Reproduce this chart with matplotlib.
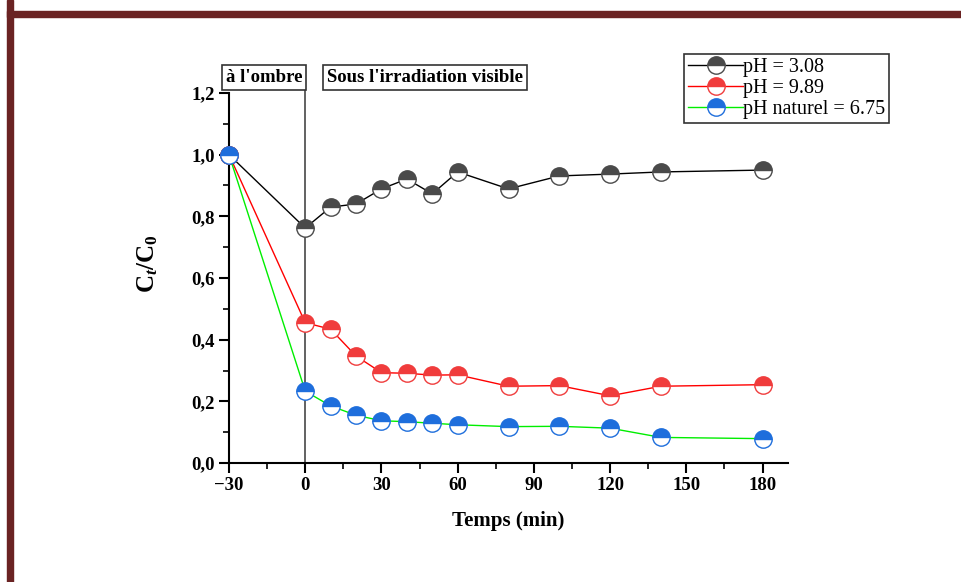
import matplotlib.pyplot as plt
from matplotlib.patches import Rectangle

# data
temps = [-30, 0, 10, 20, 30, 40, 50, 60, 80, 100, 120, 140, 180]
ph_308 = [1.0, 0.762, 0.830, 0.840, 0.889, 0.921, 0.873, 0.944, 0.889, 0.931, 0.937, 0.944, 0.950]
ph_989 = [1.0, 0.455, 0.434, 0.347, 0.293, 0.291, 0.285, 0.286, 0.249, 0.251, 0.218, 0.249, 0.254]
ph_nat = [1.0, 0.233, 0.185, 0.155, 0.137, 0.134, 0.129, 0.124, 0.118, 0.119, 0.113, 0.083, 0.079]

labels = ["pH = 3.08", "pH = 9.89", "pH naturel = 6.75"]
line_colors = ["black", "#ff0000", "#00ee00"]
marker_colors = ["#4a4a4a", "#f03c3c", "#1e6edc"]

xticks = [-30, 0, 30, 60, 90, 120, 150, 180]
yticks = [0.0, 0.2, 0.4, 0.6, 0.8, 1.0, 1.2]

plt.rcParams['font.family'] = ['Liberation Serif', 'DejaVu Serif']
plt.rcParams['mathtext.fontset'] = 'custom'
plt.rcParams['mathtext.rm'] = 'Liberation Serif:bold'
plt.rcParams['mathtext.it'] = 'Liberation Serif:italic:bold'
plt.rcParams['mathtext.bf'] = 'Liberation Serif:bold'

fig = plt.figure(figsize=(9.61, 5.82), dpi=100)
W, H = 961, 582

# dark red frame (left and top)
fig.patches.append(Rectangle((7 / W, 0), 6 / W, 1, transform=fig.transFigure,
                             color="#6a2323", zorder=0))
fig.patches.append(Rectangle((7 / W, 1 - 17 / H), 1, 6 / H, transform=fig.transFigure,
                             color="#6a2323", zorder=0))

ax = fig.add_axes([229 / W, 1 - 463 / H, (788 - 229) / W, (463 - 93) / H])

for ys, lc, mc, lab in zip([ph_308, ph_989, ph_nat], line_colors, marker_colors, labels):
    ax.plot(temps, ys, color=lc, lw=1.0, marker='o', markersize=12.5,
            fillstyle='top', markerfacecolor=mc, markerfacecoloralt='white',
            markeredgecolor=mc, markeredgewidth=1.0, label=lab, clip_on=False, zorder=3)

ax.set_xlim(-30, 190)
ax.set_ylim(0, 1.2)
ax.set_xticks(xticks)
ax.set_xticklabels(["\u221230" if t < 0 else str(t) for t in xticks])
ax.set_yticks(yticks)
ax.set_yticklabels([f"{v:.1f}".replace(".", ",") for v in yticks])
ax.set_xticks([-15, 15, 45, 75, 105, 135, 165], minor=True)
ax.set_yticks([0.1, 0.3, 0.5, 0.7, 0.9, 1.1], minor=True)

for s in ["top", "right"]:
    ax.spines[s].set_visible(False)
for s in ["left", "bottom"]:
    ax.spines[s].set_linewidth(1.5)
ax.tick_params(which='major', direction='out', length=7, width=1.5, labelsize=13.5, pad=3)
ax.tick_params(which='minor', direction='out', length=4, width=1.2)
for lab in ax.get_xticklabels() + ax.get_yticklabels():
    lab.set_fontweight('bold')

ax.set_xlabel("Temps (min)", fontsize=15, fontweight='bold', labelpad=12)
ax.set_ylabel(r"$\mathrm{C}_{t}\mathrm{/C}_{0}$", fontsize=18)
ax.yaxis.set_label_coords(-0.123, 0.54)

# separator between dark and irradiation phases
ax.plot([0, 0], [0, 1.213], color="#555555", lw=1.3, clip_on=False, zorder=2)

box = dict(boxstyle="square,pad=0.2", fc="white", ec="#333333", lw=1.2)
ax.text(-16.2, 1.25, "\u00e0 l'ombre", fontsize=13.5, fontweight='bold',
        ha='center', va='center', bbox=box)
ax.text(47.1, 1.25, "Sous l'irradiation visible", fontsize=13.5, fontweight='bold',
        ha='center', va='center', bbox=box)

leg = ax.legend(loc='upper right', bbox_to_anchor=(889 / W, 1 - 54 / H),
                bbox_transform=fig.transFigure, borderaxespad=0, fancybox=False,
                edgecolor='#333333', framealpha=1, fontsize=14.5, handlelength=2.7,
                handletextpad=0.0, labelspacing=0.1, borderpad=0.2, markerscale=1.0)
leg.get_frame().set_linewidth(1.2)

fig.savefig("out.png", dpi=100)
